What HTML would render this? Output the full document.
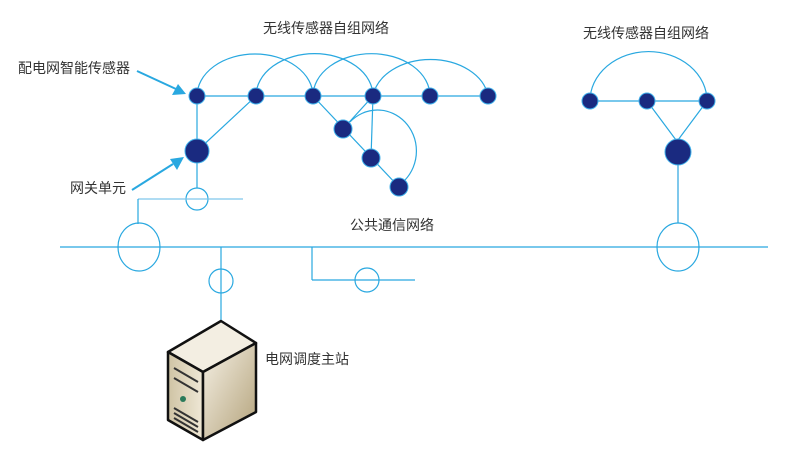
<!DOCTYPE html>
<html><head><meta charset="utf-8"><style>
body{margin:0;background:#fff;}
svg text{font-family:"Liberation Sans","Noto Sans CJK SC",sans-serif;fill:#333;font-size:14px;}
</style></head><body>
<svg width="800" height="450" viewBox="0 0 800 450" xmlns="http://www.w3.org/2000/svg">
<defs>
<linearGradient id="front" x1="0" y1="0" x2="1" y2="0"><stop offset="0" stop-color="#cfc3a4"/><stop offset="1" stop-color="#efe8d6"/></linearGradient>
<linearGradient id="side" x1="0" y1="0" x2="1" y2="1"><stop offset="0" stop-color="#f6f1e6"/><stop offset="1" stop-color="#b3a27a"/></linearGradient>
</defs>
<g stroke="#29a8e0" fill="none" stroke-width="1.2">
<path d="M197,96 A58 42 0 0 1 313,96"/>
<path d="M256,96 A58 42 0 0 1 373,96"/>
<path d="M313,96 A58 42 0 0 1 430,96"/>
<path d="M373,96 A58 42 0 0 1 488,96"/>
<line x1="197" y1="96" x2="488" y2="96"/>
<line x1="197" y1="96" x2="197" y2="188"/>
<line x1="197" y1="151" x2="256" y2="96"/>
<line x1="313" y1="96" x2="399" y2="187"/>
<line x1="373" y1="96" x2="343" y2="129"/>
<line x1="373" y1="96" x2="371" y2="158"/>
<path d="M350,122 A38 40 0 0 1 405,180"/>
<circle cx="197" cy="199" r="11"/>
<line x1="138" y1="199" x2="243" y2="199" stroke="#7fc8ec"/>
<line x1="138" y1="199" x2="138" y2="224"/>
<ellipse cx="139" cy="247" rx="21" ry="24"/>
<line x1="60" y1="247" x2="768" y2="247"/>
<line x1="221" y1="247" x2="221" y2="322"/>
<circle cx="221" cy="281" r="12"/>
<line x1="312" y1="247" x2="312" y2="280"/>
<line x1="312" y1="280" x2="415" y2="280"/>
<circle cx="367" cy="280" r="12"/>
<path d="M590,101 A58 49 0 0 1 707,101"/>
<line x1="590" y1="101" x2="707" y2="101"/>
<line x1="647" y1="101" x2="676" y2="140"/>
<line x1="707" y1="101" x2="678" y2="140"/>
<line x1="678" y1="152" x2="678" y2="223" stroke="#7fc8ec" stroke-width="2"/>
<ellipse cx="678" cy="247" rx="21" ry="24"/>
<line x1="137" y1="71" x2="176" y2="89" stroke-width="2"/>
<line x1="132" y1="190" x2="173" y2="164" stroke-width="2"/>
</g>
<polygon points="186,94 172,95 178,84" fill="#29a8e0"/>
<polygon points="184,157 177,170 170,159" fill="#29a8e0"/>
<g fill="#1a2a80" stroke="#3fb0ea" stroke-width="1">
<circle cx="197" cy="96" r="8"/><circle cx="256" cy="96" r="8"/><circle cx="313" cy="96" r="8"/>
<circle cx="373" cy="96" r="8"/><circle cx="430" cy="96" r="8"/><circle cx="488" cy="96" r="8"/>
<circle cx="197" cy="151" r="12"/>
<circle cx="343" cy="129" r="9"/><circle cx="371" cy="158" r="9"/><circle cx="399" cy="187" r="9"/>
<circle cx="590" cy="101" r="8"/><circle cx="647" cy="101" r="8"/><circle cx="707" cy="101" r="8"/>
<circle cx="678" cy="152" r="13"/>
</g>
<g stroke="#111" stroke-width="2.5" stroke-linejoin="round">
<polygon points="168,352 221,321 256,343 203,372" fill="#f3eee2"/>
<polygon points="168,352 203,372 203,440 168,420" fill="url(#front)"/>
<polygon points="203,372 256,343 256,412 203,440" fill="url(#side)"/>
</g>
<g stroke="#333" stroke-width="2" fill="none">
<line x1="174" y1="368" x2="198" y2="382"/>
<line x1="174" y1="378" x2="198" y2="392"/>
<line x1="174" y1="408" x2="198" y2="422"/>
<line x1="174" y1="413" x2="198" y2="427"/>
<line x1="174" y1="418" x2="198" y2="432"/>
</g>
<circle cx="183" cy="399" r="3" fill="#2a7a5a"/>
<text x="263" y="33">无线传感器自组网络</text>
<text x="583" y="38">无线传感器自组网络</text>
<text x="18" y="73">配电网智能传感器</text>
<text x="70" y="193">网关单元</text>
<text x="350" y="230">公共通信网络</text>
<text x="265" y="364">电网调度主站</text>
</svg>
</body></html>
